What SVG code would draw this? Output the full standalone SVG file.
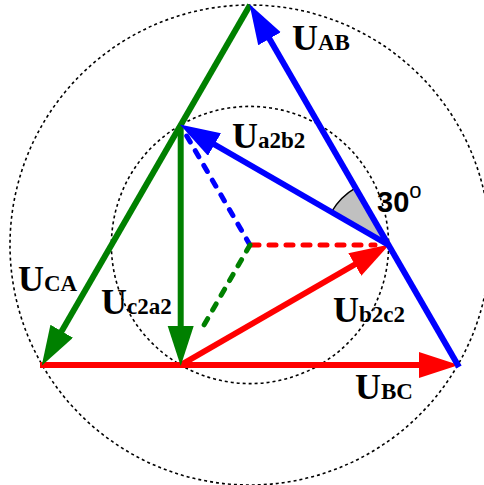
<svg xmlns="http://www.w3.org/2000/svg" width="484" height="485" viewBox="0 0 484 485">
<style>
.circ{fill:none;stroke:#000;stroke-width:1.6;stroke-dasharray:3 3}
.ln{fill:none;stroke-width:6;stroke-linecap:butt}
.dash{fill:none;stroke-width:5;stroke-linecap:round;stroke-dasharray:7 10}
.r{stroke:#ff0000}.g{stroke:#008000}.b{stroke:#0000ff}
.lbl{font-family:"Liberation Serif",serif;font-weight:bold;fill:#000}
.big{font-size:36px}.sub{font-size:23px}
.deg{font-family:"Liberation Sans",Arial,sans-serif;font-weight:bold;font-size:29px;fill:#000}
</style>
<defs>
<marker id="hr" markerUnits="userSpaceOnUse" markerWidth="42" markerHeight="28" refX="27" refY="13" orient="auto"><path d="M0,0 L40,13 L0,26 z" fill="#ff0000"/></marker>
<marker id="hg" markerUnits="userSpaceOnUse" markerWidth="42" markerHeight="28" refX="27" refY="13" orient="auto"><path d="M0,0 L40,13 L0,26 z" fill="#008000"/></marker>
<marker id="hb" markerUnits="userSpaceOnUse" markerWidth="42" markerHeight="28" refX="27" refY="13" orient="auto"><path d="M0,0 L40,13 L0,26 z" fill="#0000ff"/></marker>
</defs>
<g id="circles">
<circle class="circ" cx="250" cy="245" r="240"/>
<circle class="circ" cx="250" cy="245" r="138.6"/>
</g>
<g id="angle">
<path d="M388.6,245 L331.4,212 A66,66 0 0,1 355.6,187.8 Z" fill="#c0c0c0"/>
<path d="M331.4,212 A66,66 0 0,1 355.6,187.8" fill="none" stroke="#000" stroke-width="1.5"/>
</g>
<g id="connectors">
<line class="dash b" x1="250" y1="245" x2="185" y2="133"/>
<line class="dash r" x1="252" y1="245" x2="375" y2="245"/>
<line class="dash g" x1="250" y1="245" x2="200" y2="332"/>
<line class="ln r" x1="40" y1="365" x2="445.8" y2="365" marker-end="url(#hr)"/>
<line class="ln r" x1="180.7" y1="365" x2="378.2" y2="251" marker-end="url(#hr)"/>
<line class="ln g" x1="250" y1="5" x2="48.2" y2="354.6" marker-end="url(#hg)"/>
<line class="ln g" x1="180.7" y1="125" x2="180.7" y2="353" marker-end="url(#hg)"/>
<line class="ln b" x1="459" y1="367" x2="256" y2="15.4" marker-end="url(#hb)"/>
<line class="ln b" x1="388.6" y1="245" x2="191.1" y2="131" marker-end="url(#hb)"/>
</g>
<g id="labels">
<text class="lbl" x="292" y="50"><tspan class="big">U</tspan><tspan class="sub">AB</tspan></text>
<text class="lbl" x="232" y="148"><tspan class="big">U</tspan><tspan class="sub">a2b2</tspan></text>
<text class="lbl" x="18" y="291"><tspan class="big">U</tspan><tspan class="sub">CA</tspan></text>
<text class="lbl" x="101" y="314"><tspan class="big">U</tspan><tspan class="sub">c2a2</tspan></text>
<text class="lbl" x="333" y="322"><tspan class="big">U</tspan><tspan class="sub">b2c2</tspan></text>
<text class="lbl" x="355" y="399"><tspan class="big">U</tspan><tspan class="sub">BC</tspan></text>
<text class="deg" x="377" y="212">30<tspan font-size="22" font-weight="normal" dy="-14">o</tspan></text>
</g>
</svg>
